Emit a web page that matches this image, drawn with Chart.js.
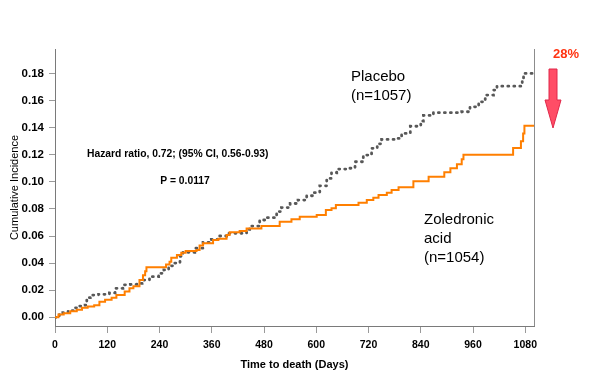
<!DOCTYPE html>
<html>
<head>
<meta charset="utf-8">
<script src="https://cdn.jsdelivr.net/npm/chart.js@4.4.1/dist/chart.umd.min.js"></script>
<style>
  html, body { margin: 0; padding: 0; background: #ffffff; }
  #wrap { position: relative; width: 600px; height: 387px; }
</style>
</head>
<body>
<div id="wrap"><canvas id="c" width="600" height="387"></canvas></div>
<script>
// ---- data ----
const xTicks = [0, 120, 240, 360, 480, 600, 720, 840, 960, 1080];
const yTicks = [0, 0.02, 0.04, 0.06, 0.08, 0.10, 0.12, 0.14, 0.16, 0.18];

const zolDays = [0, 8, 20, 35, 50, 62, 75, 90, 102, 115, 130, 141, 160, 171, 180, 194, 202, 207, 210,
  255, 263, 267, 280, 290, 300, 325, 332, 340, 363, 375, 394, 401, 424, 440, 474, 516, 543, 562,
  601, 622, 635, 645, 697, 716, 731, 743, 762, 773, 789, 823, 858, 894, 908, 923, 934, 938,
  1052, 1070, 1075, 1078, 1100];
const zolVals = [0, 0.002, 0.003, 0.0045, 0.0055, 0.007, 0.008, 0.009, 0.0115, 0.013, 0.0145, 0.0165, 0.019, 0.0214, 0.023, 0.0275, 0.031, 0.034, 0.0369,
  0.039, 0.041, 0.044, 0.046, 0.0477, 0.049, 0.0497, 0.053, 0.0546, 0.057, 0.058, 0.0607, 0.0627, 0.0637, 0.0656, 0.0673, 0.0705, 0.0723, 0.0742,
  0.0755, 0.0792, 0.0804, 0.0829, 0.0845, 0.0865, 0.0882, 0.0902, 0.0919, 0.0939, 0.0959, 0.1005, 0.1037, 0.107, 0.110, 0.113, 0.1166, 0.120,
  0.125, 0.130, 0.1357, 0.1413, 0.1413];

const placDays = [0, 10, 18, 30, 45, 52, 69, 73, 81, 100, 125, 138, 156, 173, 188, 200, 217, 238, 250, 261, 273, 287, 294,
  321, 340, 359, 378, 394, 440, 447, 470, 486, 509, 520, 540, 558, 578, 593, 608, 624, 635, 647, 674, 689, 708, 727, 740, 750,
  781, 796, 816, 840, 846, 869, 934, 953, 973, 988, 1007, 1015, 1061, 1073, 1076, 1100];
const placVals = [0, 0.002, 0.0034, 0.005, 0.007, 0.0083, 0.009, 0.0145, 0.0164, 0.017, 0.018, 0.0214, 0.024, 0.0243, 0.025, 0.0275, 0.030, 0.0325, 0.035, 0.038, 0.040, 0.045, 0.048,
  0.051, 0.0553, 0.0575, 0.060, 0.062, 0.065, 0.0673, 0.0718, 0.0735, 0.078, 0.081, 0.084, 0.0865, 0.0897, 0.092, 0.097, 0.1025, 0.1067, 0.1094, 0.110, 0.1148, 0.1197, 0.1247, 0.128, 0.1313,
  0.132, 0.1357, 0.141, 0.1448, 0.149, 0.151, 0.1517, 0.1553, 0.159, 0.164, 0.1677, 0.1706, 0.1706, 0.175, 0.180, 0.1807];

const seriesNames = ['Zoledronic acid', 'Placebo'];

const FONT = "'Liberation Sans', Arial, sans-serif";

const toPts = (xs, ys) => xs.map((x, i) => ({ x: x, y: ys[i] }));

const annotations = {
  id: 'annotations',
  afterDraw(chart) {
    const ctx = chart.ctx;
    const area = chart.chartArea;
    ctx.save();
    // right frame line
    ctx.strokeStyle = '#8c8c8c';
    ctx.lineWidth = 1;
    ctx.beginPath();
    ctx.moveTo(area.right + 0.5, area.top);
    ctx.lineTo(area.right + 0.5, area.bottom);
    ctx.stroke();

    ctx.fillStyle = '#000';
    ctx.textBaseline = 'middle';
    ctx.textAlign = 'left';
    ctx.font = 'bold 10.3px ' + FONT;
    ctx.fillText('Hazard ratio, 0.72; (95% CI, 0.56-0.93)', 87, 154);
    ctx.textAlign = 'center';
    ctx.fillText('P = 0.0117', 185, 181);

    ctx.textAlign = 'left';
    ctx.font = '15px ' + FONT;
    ctx.fillText('Placebo', 351, 77);
    ctx.fillText('(n=1057)', 351, 96);
    ctx.fillText('Zoledronic', 424, 220);
    ctx.fillText('acid', 424, 239);
    ctx.fillText('(n=1054)', 424, 258);

    // 28% arrow
    ctx.font = 'bold 13px ' + FONT;
    ctx.fillStyle = '#ff3311';
    ctx.textAlign = 'center';
    ctx.fillText('28%', 566, 54);

    ctx.beginPath();
    ctx.moveTo(549, 69);
    ctx.lineTo(557, 69);
    ctx.lineTo(557, 100);
    ctx.lineTo(561, 100);
    ctx.lineTo(553, 128);
    ctx.lineTo(545, 100);
    ctx.lineTo(549, 100);
    ctx.closePath();
    ctx.fillStyle = '#ff4d66';
    ctx.fill();
    ctx.strokeStyle = '#e0284a';
    ctx.lineWidth = 1;
    ctx.stroke();
    ctx.restore();
  }
};

new Chart(document.getElementById('c'), {
  type: 'line',
  data: {
    datasets: [
      {
        label: seriesNames[0],
        data: toPts(zolDays, zolVals),
        borderColor: '#ff7f00',
        borderWidth: 2,
        stepped: true,
        pointRadius: 0,
        fill: false
      },
      {
        label: seriesNames[1],
        data: toPts(placDays, placVals),
        borderColor: '#585858',
        borderWidth: 2.8,
        borderDash: [1, 5],
        borderCapStyle: 'round',
        stepped: true,
        pointRadius: 0,
        fill: false
      }
    ]
  },
  options: {
    responsive: false,
    animation: false,
    devicePixelRatio: 1,
    layout: { padding: { top: 49, right: 66, bottom: 0, left: 0 } },
    plugins: {
      legend: { display: false },
      tooltip: { enabled: false },
      title: { display: false }
    },
    scales: {
      x: {
        type: 'linear',
        min: 0,
        max: 1100,
        afterFit: s => { s.height = 61; },
        afterBuildTicks: s => { s.ticks = xTicks.map(v => ({ value: v })); },
        grid: { drawOnChartArea: false, drawTicks: true, tickLength: 7, color: '#9a9a9a' },
        border: { display: true, color: '#7a7a7a', width: 1 },
        ticks: {
          autoSkip: false,
          maxRotation: 0,
          padding: 6,
          color: '#000',
          font: { family: FONT, size: 10.5, weight: 'bold' },
          callback: v => String(v)
        },
        title: {
          display: true,
          text: 'Time to death (Days)',
          color: '#000',
          font: { family: FONT, size: 11, weight: 'bold' },
          padding: { top: 0, bottom: 15 }
        }
      },
      y: {
        type: 'linear',
        min: -0.0064,
        max: 0.198,
        afterFit: s => { s.width = 55; },
        afterBuildTicks: s => { s.ticks = yTicks.map(v => ({ value: v })); },
        grid: { drawOnChartArea: false, drawTicks: true, tickLength: 6, color: '#9a9a9a' },
        border: { display: true, color: '#7a7a7a', width: 1 },
        ticks: {
          autoSkip: false,
          padding: 5,
          color: '#000',
          font: { family: FONT, size: 11.5, weight: 'bold' },
          callback: v => Number(v).toFixed(2)
        },
        title: {
          display: true,
          text: 'Cumulative Incidence',
          color: '#000',
          font: { family: FONT, size: 11 },
          padding: { top: 8, bottom: 0 }
        }
      }
    }
  },
  plugins: [annotations]
});
</script>
</body>
</html>
